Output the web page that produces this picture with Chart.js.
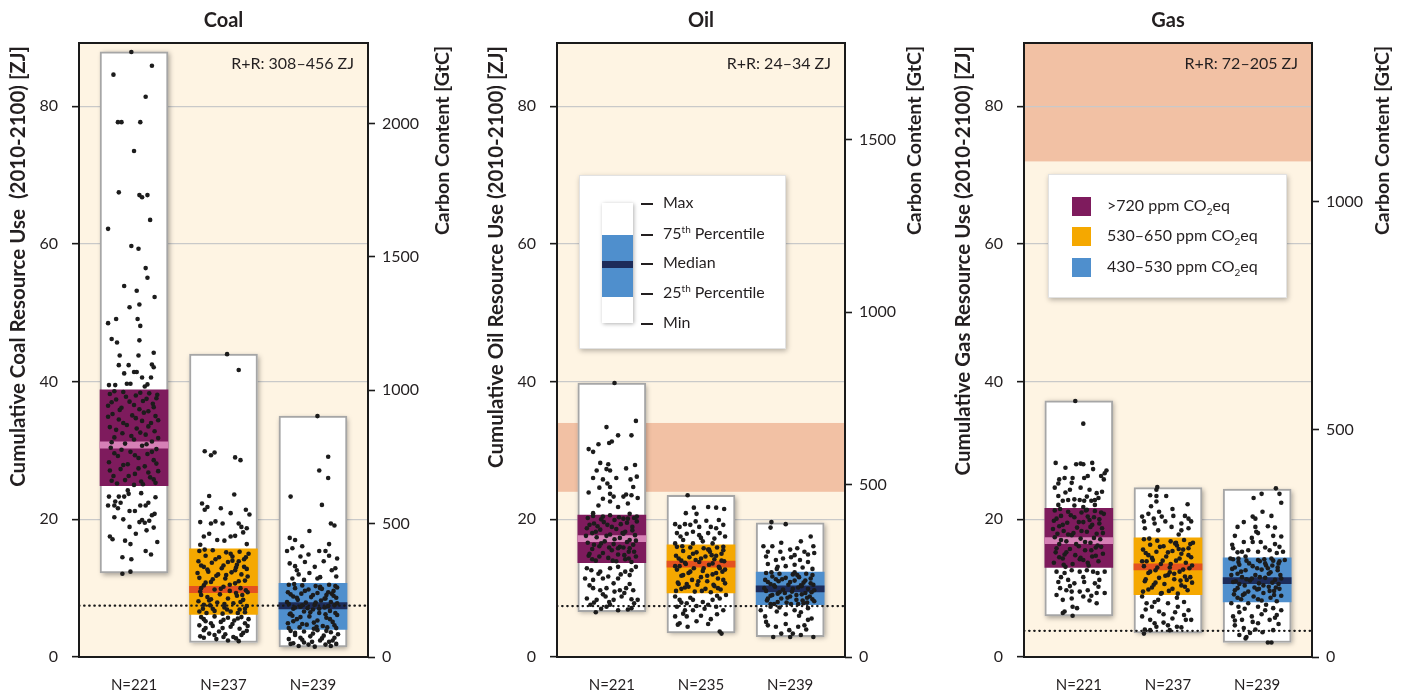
<!DOCTYPE html>
<html>
<head>
<meta charset="utf-8">
<script src="https://cdn.jsdelivr.net/npm/chart.js@4.4.1/dist/chart.umd.min.js"></script>
<style>
  body { margin: 0; width: 1406px; height: 694px; position: relative; overflow: hidden; background: #fff;
         font-family: Lato, "Noto Sans", sans-serif; color: #231f20; }
  .panel { position: absolute; top: 0; height: 694px; }
  .key { position: absolute; background: #fff; border: 1px solid #e2e2e2; box-shadow: 1px 2px 5px rgba(0,0,0,0.28); }
  .key div { position: absolute; }
  .row { font-size: 16px; line-height: 18px; white-space: nowrap; }
  .row sup, .row sub { font-size: 10px; line-height: 0; }
  .dash { height: 1.6px; background: #231f20; width: 12px; }
</style>
</head>
<body>
<div class="panel" style="left:0;width:470px"><canvas id="coalChart" width="470" height="694"></canvas></div>
<div class="panel" style="left:470px;width:470px"><canvas id="oilChart" width="470" height="694"></canvas></div>
<div class="panel" style="left:940px;width:466px"><canvas id="gasChart" width="466" height="694"></canvas></div>
<div class="key" id="boxKey" style="left:579px;top:175px;width:205px;height:172px"></div>
<div class="key" id="scenKey" style="left:1048px;top:174px;width:237px;height:122px"></div>

<script>
// ----- Scenario categories -----
const scenarioNames  = [">720", "530–650", "430–530"];
const scenarioColors = ["#7e1b5d", "#f5a800", "#4f8fcd"];
const medianColors   = ["#d680b6", "#e4511f", "#1d2c5a"];

// ----- Axis ticks -----
const resourceTicks = [0, 20, 40, 60, 80];
const resourceMax   = 89.2;
const coalCarbonTicks = [0, 500, 1000, 1500, 2000];
const oilCarbonTicks  = [0, 500, 1000, 1500];
const gasCarbonTicks  = [0, 500, 1000];
// GtC per ZJ
const coalCarbonPerZJ = 25.8;
const oilCarbonPerZJ  = 19.97;
const gasCarbonPerZJ  = 15.12;

// ----- Sample sizes -----
const coalN = ["N=221", "N=237", "N=239"];
const oilN  = ["N=221", "N=235", "N=239"];
const gasN  = ["N=221", "N=237", "N=239"];

// ----- Box statistics [ZJ] (>720, 530-650, 430-530) -----
const coalMin = [12.2, 2.1, 1.45];
const coalQ1  = [24.9, 6.2, 4.0];
const coalMed = [30.8, 9.8, 7.45];
const coalQ3  = [38.8, 15.7, 10.7];
const coalMax = [87.9, 44.0, 35.0];

const oilMin = [6.6, 3.5, 2.95];
const oilQ1  = [13.7, 9.3, 7.6];
const oilMed = [17.2, 13.5, 9.9];
const oilQ3  = [20.6, 16.3, 12.35];
const oilMax = [39.8, 23.5, 19.5];

const gasMin = [5.95, 3.5, 2.1];
const gasQ1  = [13.0, 9.05, 8.0];
const gasMed = [16.9, 13.1, 11.1];
const gasQ3  = [21.6, 17.3, 14.4];
const gasMax = [37.2, 24.6, 24.4];

// dotted reference line [ZJ] and reserves+resources range [ZJ]
const coalRef = 7.45, oilRef = 7.4, gasRef = 3.8;
const coalRR = [308, 456];
const oilRR  = [24, 34];
const gasRR  = [72, 205];

// ----- Individual scenarios: [jitter, ZJ] -----
const coalDotsHigh = [
  [-.03,87.9],[.20,85.9],[-.23,84.6],[.13,81.4],[-.18,77.7],[-.14,77.7],[.07,77.7],[0,73.5],[-.17,67.5],[.06,67.1],
  [.09,66.8],[.15,67.1],[.18,63.5],[-.29,62.2],[-.03,59.7],[.05,59.3],[.13,56.5],[.15,55.1],[-.11,53.9],[.03,53.2],
  [.23,52.3],[-.05,50.8],[.06,51.2],[-.29,48.5],[-.2,49.1],[.04,49.1],[.07,48.1],[-.25,46.2],[-.19,45.7],[.06,46.0],
  [-.16,43.8],[.05,43.8],[.22,44.2],[-.17,42.4],[-.06,42.4],[.2,42.5],[.22,42.1],[-.11,41.2],[0,41.4],[.03,41.4],
  [.09,40.6],[.19,40.6],[.15,39.6],[.12,39.3],[-.28,39.5],[-.21,39.5],[-.08,39.7],[-.04,39.7],
  [-.27,38.2],[-.12,38.5],[.02,38.0],[.17,38.3],[.25,37.6],[-.2,37.4],[-.05,37.1],[.1,37.2],[.21,36.8],[-.29,36.5],
  [-.14,36.2],[.06,36.0],[.16,35.7],[-.24,35.3],[-.02,35.1],[.24,35.0],[-.17,34.5],[.09,34.3],[.19,34.0],[-.08,33.7],
  [-.27,33.4],[.03,33.2],[.23,32.8],[-.13,32.5],[.13,32.3],[-.22,31.9],[0,31.6],[.2,31.3],[-.1,31.0],[.09,30.7],
  [-.26,30.4],[.25,30.2],[-.04,29.8],[.15,29.5],[-.18,29.2],[.05,28.9],[.22,28.6],[-.28,28.3],[-.07,28.0],[.12,27.7],
  [-.15,27.3],[.27,27.0],[.01,26.6],[-.23,26.3],[.18,26.1],[-.1,25.7],[.08,25.5],[-.19,25.2],[.24,25.3],[0,25.0],
  [-.22,38.6],[.07,38.4],[.26,38.1],[-.09,37.8],[.14,37.5],[-.25,37.0],[0,36.6],[.22,36.3],[-.16,35.9],[.11,35.5],
  [-.29,34.9],[.02,34.7],[.27,34.4],[-.12,34.0],[.16,33.5],[-.2,33.0],[.07,32.6],[-.03,32.1],[.27,31.8],[-.25,31.2],
  [.14,30.9],[-.14,30.1],[.2,29.8],[-.22,29.6],[.01,29.3],[.25,28.1],[-.12,27.9],[.05,27.4],[-.27,27.1],[.16,26.8],
  [-.06,26.3],[.22,25.8],[-.25,25.6],[.1,25.1],
  [-.07,24.2],[-.28,23.3],[-.21,22.6],[-.17,23.3],[-.11,23.3],[-.06,23.7],[-.29,22.0],[-.22,22.0],[-.18,21.6],[-.15,22.4],
  [-.05,21.2],[.01,21.2],[.07,22.0],[.13,22.0],[.16,22.4],[.24,23.2],[-.27,17.5],[-.24,17.1],[-.05,18.9],[.12,19.5],
  [.17,19.8],[.23,20.8],[.2,20.6],[.06,19.6],[.09,19.9],[-.13,14.5],[-.03,14.2],[-.04,16.4],[.13,15.4],[.19,14.9],
  [.14,18.4],[.22,18.8],[.26,16.7],[-.13,12.1],[-.04,12.4],[-.22,20.3],[-.12,20.0],[.02,17.9],[-.1,16.9],[.08,23.8]
];
const coalDotsMid = [
  [.04,44.0],[.17,41.7],[-.21,29.9],[-.14,29.3],[-.1,29.7],[.13,29.0],[.19,28.6],[-.16,23.4],[.12,23.6],
  [-.24,22.3],[-.21,21.4],[-.18,21.8],[-.03,21.6],[.08,20.9],[.25,21.4],[.29,20.7],[-.26,19.6],[-.14,19.4],[-.09,19.7],
  [-.01,19.4],[.17,19.4],[.2,18.9],[.26,18.7],[-.22,17.5],[-.16,17.9],[-.07,17.0],[.01,16.9],[.08,17.5],[.13,17.6],
  [.22,18.1],[.26,16.4],[-.26,16.3],
  [-.27,15.4],[-.12,15.5],[.03,15.2],[.18,15.3],[.28,15.0],[-.2,14.7],[-.05,14.5],[.1,14.6],[.23,14.2],[-.28,13.9],
  [-.13,13.7],[.05,13.8],[.15,13.4],[-.22,13.1],[-.02,12.9],[.26,12.8],[-.17,12.4],[.09,12.3],[.2,12.0],[-.08,11.8],
  [-.27,11.5],[.02,11.4],[.24,11.1],[-.14,10.9],[.13,10.7],[-.22,10.4],[0,10.2],[.19,10.0],[-.1,9.8],[.07,9.6],
  [-.26,9.5],[.27,9.4],[-.04,9.1],[.15,8.9],[-.18,8.7],[.05,8.5],[.22,8.3],[-.28,8.1],[-.07,7.9],[.11,7.8],
  [-.15,7.5],[.26,7.4],[.01,7.2],[-.23,7.0],[.18,6.9],[-.1,6.7],[.08,6.6],[-.19,6.4],[.24,6.5],[-.01,6.3],
  [.14,13.0],[-.06,12.0],[.21,9.0],[-.16,8.2],[.1,14.0],[-.25,10.0],
  [-.21,15.6],[.08,15.0],[.25,14.5],[-.09,14.2],[.17,13.9],[-.25,13.3],[0,13.3],[.23,13.1],[-.18,12.7],[.13,12.6],
  [-.29,12.2],[.03,11.9],[.27,11.7],[-.12,11.3],[.17,11.0],[-.2,10.8],[.07,10.5],[-.03,9.9],[.25,9.7],[-.25,9.0],
  [.14,9.3],[-.14,8.4],[.19,8.0],[-.22,7.6],[.01,7.7],[.24,7.0],[-.12,7.0],[.04,6.9],[-.27,6.6],[.16,6.4],
  [-.25,5.8],[-.1,5.9],[.05,5.7],[.2,5.8],[.28,5.5],[-.2,5.2],[-.03,5.1],[.12,5.3],[.24,4.9],[-.27,4.6],
  [-.12,4.5],[.08,4.4],[.18,4.1],[-.22,3.9],[-.05,3.7],[.26,3.8],[-.16,3.4],[.02,3.3],[.2,3.2],[-.26,3.0],
  [.11,2.9],[-.08,2.6],[.05,2.4],[.17,2.3],[-.2,4.2],[.27,4.5],
  [-.22,5.5],[0,5.4],[.16,5.6],[-.14,4.9],[.1,4.8],[-.01,4.2],[.22,3.5],[-.1,3.2],[.14,2.7],[-.22,2.8],[0,2.9]
];
const coalDotsLow = [
  [.05,35.0],[.17,29.1],[.07,27.1],[.17,26.0],[-.25,23.3],[.1,22.1],[.2,19.4],[.24,19.1],[-.04,18.3],[-.26,17.3],
  [-.2,17.0],[-.12,16.1],[-.29,15.4],[-.23,15.8],[.07,15.4],[.14,15.4],[.18,14.7],[-.14,14.6],[-.09,13.8],[-.26,13.6],
  [.02,13.1],[.21,12.6],[-.18,12.6],[-.04,12.2],[.08,11.6],[.26,11.7],[-.23,11.4],[-.1,11.2],
  [-.2,13.2],[.12,13.9],[.25,12.9],[-.05,14.9],[.18,16.4],[-.16,12.0],[.05,11.4],[.27,14.3],
  [-.27,10.5],[-.12,10.4],[.03,10.3],[.18,10.5],[.27,10.1],[-.2,10.0],[-.05,9.8],[.1,9.9],[.23,9.6],[-.28,9.4],
  [-.13,9.2],[.05,9.3],[.15,9.0],[-.22,8.8],[-.02,8.7],[.26,8.6],[-.17,8.3],[.09,8.2],[.2,8.0],[-.08,7.9],
  [-.27,7.7],[.02,7.6],[.24,7.5],[-.14,7.3],[.13,7.2],[-.22,7.0],[0,6.9],[.19,6.7],[-.1,6.6],[.07,6.4],
  [-.26,6.2],[.27,6.1],[-.04,5.9],[.15,5.7],[-.18,5.5],[.05,5.3],[.22,5.1],[-.28,4.9],[-.07,4.7],[.11,4.5],
  [-.15,4.3],[.26,4.2],[.01,4.1],[.14,8.5],[-.06,7.1],[.21,9.2],[-.23,6.0],[.08,10.0],
  [-.21,10.6],[.08,10.2],[.25,10.3],[-.09,9.6],[.17,9.4],[-.25,9.1],[0,9.0],[.23,8.9],[-.18,8.6],[.13,8.5],
  [-.29,8.0],[.03,7.9],[.27,7.8],[-.12,7.5],[.17,7.4],[-.2,7.2],[.07,7.0],[-.03,6.5],[.25,6.4],[-.25,6.3],
  [.14,6.2],[-.14,5.8],[.19,5.5],[-.22,5.2],[.01,5.0],[.24,4.6],[-.12,4.8],[.04,4.4],[-.27,4.2],[.16,4.3],
  [-.25,3.8],[-.1,3.7],[.05,3.9],[.2,3.6],[.28,3.3],[-.2,3.2],[-.03,3.0],[.12,3.1],[.24,2.8],[-.27,2.6],
  [-.12,2.5],[.08,2.4],[.18,2.2],[-.22,2.0],[-.05,1.8],[.26,1.9],[-.16,1.6],[.02,1.5],[.2,1.6],
  [-.2,3.5],[0,3.4],[.15,3.8],[-.14,2.8],[.1,2.7],[-.01,2.2],[.22,2.4],[-.1,2.1],[.14,1.8],[-.25,1.9]
];

const oilDotsHigh = [
  [.03,39.8],[.27,34.3],[-.06,33.4],[.07,32.2],[.22,32.2],[-.03,31.1],[0,31.3],[-.15,30.9],[-.26,30.2],[-.21,29.8],
  [-.13,28.2],[-.04,28.0],[.26,27.9],[.16,27.4],[-.17,27.1],[-.06,27.3],[-.02,27.1],[-.21,26.0],[-.1,25.8],[.05,26.0],
  [.21,25.8],[.28,26.2],[-.14,24.6],[-.05,25.2],[-.02,24.7],[.24,24.7],[-.26,23.9],[-.02,23.7],[.02,23.3],[.13,23.3],
  [.16,23.6],[.22,23.5],[.29,23.1],[-.1,23.0],[-.02,22.6],[.18,22.3],[-.15,22.0],[.07,21.8],[-.21,20.9],[-.1,20.4],
  [-.02,20.6],[.13,20.1],[.2,20.8],[.28,20.4],
  [-.27,20.2],[-.12,20.0],[.03,19.9],[.18,20.1],[.28,19.7],[-.2,19.4],[-.05,19.2],[.1,19.3],[.23,18.9],[-.28,18.7],
  [-.13,18.5],[.05,18.6],[.15,18.2],[-.22,18.0],[-.02,17.8],[.26,17.7],[-.17,17.4],[.09,17.3],[.2,17.0],[-.08,16.8],
  [-.27,16.6],[.02,16.4],[.24,16.3],[-.14,16.1],[.13,15.9],[-.22,15.7],[0,15.5],[.19,15.3],[-.1,15.1],[.07,14.9],
  [-.26,14.7],[.27,14.6],[-.04,14.4],[.15,14.2],[-.18,14.0],[.05,13.9],[.22,13.8],[.12,18.0],[-.06,17.6],[.2,15.8],
  [-.16,19.0],[.09,16.0],
  [-.21,20.5],[.08,20.3],[.25,20.2],[-.09,19.6],[.17,19.5],[-.25,19.2],[0,18.9],[.23,18.4],[-.18,18.2],[.13,17.9],
  [-.29,17.6],[.03,17.1],[.27,16.9],[-.12,16.5],[.17,16.7],[-.2,16.3],[.07,15.8],[-.03,15.9],[.25,15.3],[-.25,15.0],
  [.14,14.8],[-.14,14.6],[.19,14.3],[-.22,14.2],[.01,14.0],
  [-.28,12.9],[-.23,12.6],[-.13,12.4],[-.02,12.9],[.07,13.1],[.15,12.4],[.22,12.6],[.27,13.1],[-.3,11.4],[-.21,11.2],
  [-.1,11.4],[-.04,11.7],[.07,11.4],[.2,11.9],[-.21,10.0],[-.13,9.7],[-.06,10.0],[.03,9.5],[.09,9.7],[.16,10.0],
  [.24,9.7],[-.28,8.5],[-.17,8.3],[-.07,8.8],[.02,8.3],[.11,8.8],[.22,8.4],[.29,8.3],[-.24,7.6],[-.06,7.3],
  [-.02,7.6],[.07,6.8],[.22,7.1],[-.18,6.5],[.18,6.9],[-.12,7.0],
  [-.15,12.1],[.1,12.0],[.02,10.7],[-.25,10.4],[.2,10.6],[-.1,9.1],[.14,9.3],[-.03,8.0],[.25,7.8],[-.2,7.9]
];
const oilDotsMid = [
  [-.15,23.5],[-.08,21.7],[.08,21.8],[.17,21.7],[.26,21.5],[-.17,20.9],[-.05,20.8],[.06,19.8],[-.29,19.3],[-.24,18.9],
  [-.18,19.3],[-.12,19.2],[-.02,18.9],[.11,18.9],[.17,18.7],[.25,19.2],[-.27,18.0],[-.16,17.9],[-.09,18.2],[-.02,17.7],
  [.08,18.0],[.21,18.0],[.27,17.5],[-.29,16.5],[-.2,17.0],[-.09,16.5],[.02,16.8],[.13,16.5],[.25,16.0],
  [-.23,17.5],[0,17.3],[.15,17.2],[-.06,19.7],[.2,19.9],
  [-.27,16.0],[-.12,15.9],[.03,15.8],[.18,15.9],[-.2,15.4],[-.05,15.2],[.1,15.3],[.23,15.0],[-.28,14.7],[-.13,14.5],
  [.05,14.6],[.15,14.2],[-.22,14.0],[-.02,13.8],[.26,13.9],[-.17,13.5],[.09,13.4],[.2,13.1],[-.08,12.9],[-.27,12.7],
  [.02,12.5],[.24,12.4],[-.14,12.2],[.13,12.0],[-.22,11.8],[0,11.6],[.19,11.4],[-.1,11.2],[.07,11.0],[-.26,10.8],
  [.27,10.7],[-.04,10.5],[.15,10.3],[-.18,10.1],[.05,9.9],[.22,9.8],[-.28,9.6],[-.07,9.5],[.11,9.4],[.12,14.8],
  [-.06,14.1],[.21,12.9],[-.16,10.6],[.09,15.6],[-.24,13.2],
  [-.21,16.1],[.08,15.6],[.25,15.5],[-.09,15.0],[.17,14.7],[-.25,14.3],[0,14.3],[.23,14.0],[-.18,13.7],[.13,13.6],
  [-.29,13.2],[.03,12.9],[.27,12.7],[-.12,12.4],[.17,12.2],[-.2,11.9],[.07,11.8],[-.03,11.0],[.25,11.2],[-.25,10.6],
  [.14,10.5],[-.14,10.2],[.19,10.0],[-.22,9.9],[.01,9.6],
  [-.29,8.8],[-.24,8.3],[-.16,7.8],[-.09,8.3],[.02,8.0],[.13,8.3],[.21,8.5],[.28,9.0],[-.27,7.3],[-.18,6.8],
  [-.09,6.8],[.04,7.0],[.17,7.3],[.25,6.8],[-.16,5.9],[-.29,5.9],[-.24,4.9],[-.15,4.4],[.08,4.8],[.21,3.7],
  [.23,3.4],[-.26,4.7],[0,6.0],[.11,5.5],[-.05,5.2],[.18,6.2],[-.2,6.3],
  [-.12,8.6],[.08,7.6],[-.22,7.9],[.18,8.9],[-.05,7.4]
];
const oilDotsLow = [
  [-.21,19.6],[-.05,19.3],[-.22,18.8],[.23,17.5],[-.3,16.1],[-.2,16.1],[-.11,15.3],[0,15.6],[.08,15.8],[.16,15.3],
  [.26,16.1],[.27,15.1],[-.27,14.6],[-.16,14.1],[-.08,14.3],[.01,14.5],[.11,14.1],[.2,13.8],
  [-.25,13.5],[-.05,13.2],[.14,13.0],[.25,12.8],[-.15,12.8],[.05,13.4],
  [-.1,16.6],[.12,16.8],[-.25,15.3],[.05,14.8],[-.14,13.1],[.2,14.9],
  [-.27,12.2],[-.12,12.1],[.03,12.0],[.18,12.1],[-.2,11.7],[-.05,11.5],[.1,11.6],[.23,11.4],[-.28,11.2],[-.13,11.0],
  [.05,11.1],[.15,10.8],[-.22,10.6],[-.02,10.5],[.26,10.5],[-.17,10.2],[.09,10.1],[.2,9.9],[-.08,9.8],[-.27,9.6],
  [.02,9.5],[.24,9.4],[-.14,9.2],[.13,9.1],[-.22,8.9],[0,8.8],[.19,8.6],[-.1,8.5],[.07,8.3],[-.26,8.2],
  [.27,8.1],[-.04,7.9],[.15,7.8],[-.18,7.7],[.05,12.3],[.12,10.4],[-.06,9.3],[.22,8.8],[-.16,11.3],[.09,7.7],
  [-.21,12.3],[.08,11.9],[.25,11.9],[-.09,11.3],[.17,11.1],[-.25,10.9],[0,10.9],[.23,10.7],[-.18,10.4],[.13,10.3],
  [-.29,10.0],[.03,9.9],[.27,9.7],[-.12,9.4],[.17,9.3],[-.2,9.0],[.07,9.0],[-.03,8.6],[.25,8.4],[-.25,8.5],
  [.14,8.2],[-.14,8.0],[.19,7.9],[-.22,7.7],[.01,7.7],
  [-.33,6.8],[-.28,5.9],[-.16,4.4],[-.19,2.9],[-.1,3.4],[-.01,3.9],[.03,3.4],[.09,4.4],[.16,4.6],[.26,2.9],
  [.2,5.4],[.24,5.6],[.05,6.8],[-.25,4.6],[-.05,6.2],[.12,6.5],[-.12,7.2],[.2,7.1],[-.22,7.3],
  [-.15,6.6],[.1,6.0],[-.27,5.1],[.18,4.0],[-.05,4.8],[0,2.9],[.12,3.2]
];

const gasDotsHigh = [
  [-.04,37.2],[.05,33.9],[-.26,28.2],[-.03,28.0],[.02,28.1],[.05,28.0],[.15,28.2],[-.15,27.5],[.31,27.1],[.29,26.7],
  [-.22,25.8],[-.16,26.0],[-.07,26.0],[.06,26.0],[.1,26.3],[.25,26.3],[.28,25.8],[-.23,25.2],[-.27,24.6],[-.1,24.3],
  [.12,24.3],[.2,23.8],[.26,24.0],[-.23,23.4],[.09,23.3],[.18,22.8],[-.18,22.7],[-.12,22.8],[-.05,22.9],[.01,22.8],
  [.06,22.7],[.14,22.7],[-.23,22.1],[-.05,22.0],[.05,21.8],[.18,22.1],
  [-.15,23.9],[.02,24.6],[.22,23.1],[-.08,25.3],[.16,27.3],
  [-.27,21.3],[-.12,21.1],[.03,21.0],[.18,21.2],[.28,20.8],[-.2,20.5],[-.05,20.3],[.1,20.4],[.23,20.0],[-.28,19.8],
  [-.13,19.5],[.05,19.6],[.15,19.2],[-.22,19.0],[-.02,18.8],[.26,18.7],[-.17,18.3],[.09,18.2],[.2,17.9],[-.08,17.7],
  [-.27,17.4],[.02,17.2],[.24,17.1],[-.14,16.8],[.13,16.6],[-.22,16.4],[0,16.1],[.19,15.9],[-.1,15.7],[.07,15.5],
  [-.26,15.2],[.27,15.0],[-.04,14.8],[.15,14.6],[-.18,14.3],[.05,14.1],[.22,13.9],[-.28,13.7],[-.07,13.5],[.11,13.3],
  [-.15,13.1],[.12,19.9],[-.06,18.0],[.21,16.2],[-.16,14.9],[.09,21.4],[-.24,17.9],[.02,14.4],
  [-.21,21.5],[.08,21.3],[.25,21.0],[-.09,20.6],[.17,20.3],[-.25,20.1],[0,19.6],[.23,19.4],[-.18,19.2],[.13,18.9],
  [-.29,18.6],[.03,18.3],[.27,18.0],[-.12,17.8],[.17,17.3],[-.2,17.0],[.07,16.7],[-.03,16.4],[.25,16.0],[-.25,15.8],
  [.14,15.5],[-.14,15.2],[.19,14.7],[-.22,14.5],[.01,14.2],[.1,13.7],[-.17,13.4],
  [-.25,12.4],[-.16,12.2],[-.08,12.6],[.01,12.4],[.09,12.6],[.16,12.4],[.21,12.2],[.29,12.4],[-.23,10.9],[-.12,11.2],
  [-.05,10.7],[.06,10.9],[.18,10.7],[.23,11.2],[-.21,10.0],[-.14,9.7],[-.08,9.5],[.01,9.5],[.1,9.7],[.2,9.3],
  [.29,9.3],[-.25,9.0],[-.18,8.3],[-.08,8.5],[.05,8.8],[.14,8.9],[-.18,6.4],[-.07,6.0],[-.16,6.6],[-.07,7.3],[.2,7.8],
  [-.2,11.6],[.05,11.6],[.22,10.2],[-.1,10.3],[.12,8.2],[-.02,7.1]
];
const gasDotsMid = [
  [-.12,24.7],[-.13,24.3],[-.2,23.5],[-.13,23.4],[-.02,23.4],[-.13,22.6],[-.29,20.4],[-.22,20.8],[-.16,20.1],[-.07,20.4],
  [.06,20.5],[.19,20.5],[.23,20.1],[-.27,19.7],[-.15,19.4],[-.03,19.7],[.15,19.4],[.26,19.7],[-.26,18.7],[-.11,18.4],
  [.04,18.9],[.15,18.4],[.23,18.7],
  [-.19,21.9],[.05,21.5],[.22,22.2],[-.1,21.1],[.12,17.8],
  [-.27,17.1],[-.12,16.9],[.03,16.8],[.18,17.0],[.28,16.6],[-.2,16.3],[-.05,16.1],[.1,16.2],[.23,15.8],[-.28,15.6],
  [-.13,15.3],[.05,15.4],[.15,15.0],[-.22,14.8],[-.02,14.6],[.26,14.5],[-.17,14.1],[.09,14.0],[.2,13.7],[-.08,13.5],
  [-.27,13.2],[.02,13.0],[.24,12.9],[-.14,12.6],[.13,12.4],[-.22,12.2],[0,11.9],[.19,11.7],[-.1,11.5],[.07,11.3],
  [-.26,11.0],[.27,10.8],[-.04,10.6],[.15,10.4],[-.18,10.1],[.05,9.9],[.22,9.7],[-.28,9.5],[-.07,9.3],[.11,9.2],
  [.12,15.7],[-.06,14.0],[.21,11.2],[-.16,10.5],[.09,16.6],[-.24,13.9],[.02,12.3],
  [-.21,17.2],[.08,16.5],[.25,16.4],[-.09,16.0],[.17,15.6],[-.25,15.1],[0,15.2],[.23,14.8],[-.18,14.4],[.13,14.3],
  [-.29,13.9],[.03,13.5],[.27,13.3],[-.12,13.0],[.17,12.7],[-.2,12.4],[.07,12.1],[-.03,11.8],[.25,11.6],[-.25,11.3],
  [.14,11.1],[-.14,10.8],[.19,10.2],[-.22,9.8],[.01,9.6],[-.08,9.2],
  [-.29,8.8],[-.24,7.8],[-.18,7.3],[-.11,8.3],[0,7.8],[.11,7.3],[.23,6.8],[-.29,5.9],[-.2,5.4],[-.15,4.9],
  [0,4.6],[.1,4.4],[.15,4.3],[.2,5.4],[.26,5.4],[-.26,4.0],[-.2,3.9],[-.27,3.4],[-.05,6.2],[.08,6.5],
  [.18,8.0],[-.1,6.6],[.05,5.6],
  [-.15,8.0],[.1,8.6],[-.25,6.9],[.18,6.1],[-.05,5.0],[.02,3.9],[-.13,4.4]
];
const gasDotsLow = [
  [.21,24.5],[-.04,23.1],[.05,23.7],[.25,23.7],[.27,22.4],[.06,21.1],[-.05,20.4],[-.02,20.1],[.16,20.5],[-.22,18.9],
  [-.02,18.9],[-.01,18.2],[.01,18.0],[.18,17.6],[.27,17.5],[-.25,17.6],[-.15,16.7],[-.05,16.7],[.04,16.7],[.2,16.4],
  [.25,16.0],[-.28,16.3],[-.27,15.8],[-.17,15.3],[-.1,15.5],[.01,15.3],[.14,15.5],[.29,15.3],[.22,15.1],[-.3,14.3],
  [-.21,13.8],[-.13,14.6],[.01,14.1],[.16,14.3],[.31,14.1],[.24,13.6],
  [-.22,15.2],[.09,15.9],[-.06,17.3],[.2,18.8],[-.15,19.6],[.12,19.0],
  [-.27,14.2],[-.12,14.0],[.03,13.9],[.18,14.0],[-.2,13.4],[-.05,13.2],[.1,13.3],[.23,13.0],[-.28,12.8],[-.13,12.6],
  [.05,12.7],[.15,12.3],[-.22,12.1],[-.02,11.9],[.26,11.9],[-.17,11.6],[.09,11.5],[.2,11.2],[-.08,11.1],[-.27,10.9],
  [.02,10.7],[.24,10.6],[-.14,10.4],[.13,10.2],[-.22,10.0],[0,9.8],[.19,9.6],[-.1,9.5],[.07,9.3],[-.26,9.1],
  [.27,8.9],[-.04,8.8],[.15,8.6],[-.18,8.4],[.05,8.2],[.22,8.1],[.12,12.9],[-.06,11.4],[.21,10.1],[-.16,9.0],
  [.09,13.6],[-.24,11.0],[.02,9.9],
  [-.21,14.3],[.08,14.2],[.25,13.9],[-.09,13.6],[.17,13.3],[-.25,13.0],[0,12.9],[.23,12.6],[-.18,12.4],[.13,12.1],
  [-.29,11.9],[.03,11.6],[.27,11.4],[-.12,11.3],[.17,10.8],[-.2,10.6],[.07,10.4],[-.03,10.1],[.25,9.9],[-.25,9.7],
  [.14,9.6],[-.14,9.2],[.19,9.0],[-.22,8.6],[.01,8.4],
  [-.29,7.8],[-.21,7.3],[-.1,7.8],[.01,7.3],[.09,6.8],[.18,7.1],[.27,6.8],[-.27,5.9],[-.17,5.4],[-.06,5.9],
  [.01,4.9],[.14,5.4],[.22,6.1],[-.25,4.6],[-.15,4.2],[-.02,4.0],[.18,3.9],[-.12,2.9],[-.13,2.7],[.12,2.1],
  [.16,2.1],[-.2,6.5],[.05,6.2],[.24,4.8],[-.08,3.5],
  [-.14,7.0],[.1,7.6],[-.25,5.3],[.2,5.7],[-.05,5.1],[.06,3.6],[-.2,3.2]
];

// ----- Key texts -----
const keyLabels = ["Max", "75<sup>th</sup> Percentile", "Median", "25<sup>th</sup> Percentile", "Min"];

// ----- Layout constants -----
const X_MIN = -0.615, X_MAX = 2.615;
const FONT = 'Lato, "Noto Sans", sans-serif';
Chart.defaults.font.family = FONT;
Chart.defaults.color = "#231f20";

// ----- Panel decoration: plot background, R+R band, frame and titles -----
const panelDecor = {
  id: "panelDecor",
  beforeDraw(chart, args, opts) {
    const { ctx, chartArea: a, scales: { y } } = chart;
    ctx.save();
    ctx.fillStyle = "#fef4e3";
    ctx.fillRect(a.left, a.top, a.width, a.height);
    const [lo, hi] = opts.rr;
    if (lo < y.max) {
      const top = y.getPixelForValue(Math.min(hi, y.max));
      const bot = y.getPixelForValue(Math.max(lo, y.min));
      ctx.fillStyle = "#f2c1a4";
      ctx.fillRect(a.left, top, a.width, bot - top);
    }
    ctx.restore();
  },
  beforeDatasetsDraw(chart) {
    //soft shadow under the min-max boxes
    const { ctx } = chart;
    ctx.save();
    ctx.shadowColor = "rgba(0,0,0,0.35)";
    ctx.shadowBlur = 5;
    ctx.shadowOffsetX = 1.5;
    ctx.shadowOffsetY = 1.5;
    ctx.fillStyle = "#fff";
    chart.getDatasetMeta(0).data.forEach(bar => {
      const { x, y, base, width } = bar.getProps(["x", "y", "base", "width"], true);
      ctx.fillRect(x - width / 2, Math.min(y, base), width, Math.abs(base - y));
    });
    ctx.restore();
  },
  afterDraw(chart, args, opts) {
    const { ctx, chartArea: a } = chart;
    ctx.save();
    ctx.strokeStyle = "#1a1a1a";
    ctx.lineWidth = 2;
    ctx.strokeRect(a.left, a.top, a.width, a.height);

    ctx.fillStyle = "#231f20";
    ctx.font = `bold 20px ${FONT}`;
    ctx.textAlign = "center";
    ctx.textBaseline = "middle";
    ctx.fillText(opts.title, (a.left + a.right) / 2, 21);

    ctx.font = `16px ${FONT}`;
    ctx.textAlign = "right";
    ctx.fillText(`R+R: ${opts.rr[0]}–${opts.rr[1]} ZJ`, a.right - 14, 64);

    ctx.textBaseline = "middle";
    [[a.left - 61, opts.leftTitle, 20.5], [a.right + opts.rightOffset, "Carbon Content [GtC]", 19.5]].forEach(([x, text, size]) => {
      ctx.save();
      ctx.font = `bold ${size}px ${FONT}`;
      ctx.translate(x, a.top + 3);
      ctx.rotate(-Math.PI / 2);
      ctx.textAlign = "right";
      ctx.fillText(text, 0, 0);
      ctx.restore();
    });
    ctx.restore();
  }
};

function makePanel(canvasId, cfg) {
  const { min, q1, med, q3, max, dots, ref, nLabels, carbonTicks, carbonPerZJ } = cfg;
  const datasets = [
    {
      type: "bar", order: 5, grouped: false, barThickness: 68,
      data: min.map((m, i) => ({ x: i, y: [m, max[i]] })),
      backgroundColor: "#ffffff", borderColor: "#a6a6a6", borderWidth: 2, borderSkipped: false
    },
    {
      type: "bar", order: 4, grouped: false, barThickness: 68,
      data: q1.map((q, i) => ({ x: i, y: [q, q3[i]] })),
      backgroundColor: scenarioColors
    },
    {
      type: "bar", order: 3, grouped: false, barThickness: 68,
      data: med.map((m, i) => ({ x: i, y: [m - 0.45, m + 0.45] })),
      backgroundColor: medianColors
    },
    {
      type: "line", order: 2,
      data: [{ x: X_MIN, y: ref }, { x: X_MAX, y: ref }],
      borderColor: "#1a1a1a", borderWidth: 2.2, borderDash: [0.5, 4.6], borderCapStyle: "round",
      pointRadius: 0, fill: false
    },
    {
      type: "scatter", order: 1,
      data: dots.flatMap((list, i) => list.map(([dx, v]) => ({ x: i + dx, y: v }))),
      pointRadius: 2.3, pointBackgroundColor: "#1c1c1c", pointBorderWidth: 0
    }
  ];

  return new Chart(document.getElementById(canvasId), {
    type: "bar",
    data: { datasets },
    options: {
      responsive: false,
      animation: false,
      events: [],
      layout: { padding: { top: 43, left: 0, right: 0, bottom: 0 } },
      plugins: {
        legend: { display: false },
        tooltip: { enabled: false },
        panelDecor: { title: cfg.title, leftTitle: cfg.leftTitle, rr: cfg.rr, rightOffset: cfg.rightOffset }
      },
      scales: {
        x: {
          type: "linear", min: X_MIN, max: X_MAX, offset: false,
          afterBuildTicks: s => { s.ticks = nLabels.map((_, i) => ({ value: i })); },
          afterFit: s => { s.height = 37; },
          ticks: { callback: v => nLabels[v], font: { size: 15 }, padding: 19, autoSkip: false, maxRotation: 0 },
          grid: { display: false, drawTicks: false },
          border: { display: false }
        },
        y: {
          type: "linear", position: "left", min: 0, max: resourceMax,
          afterBuildTicks: s => { s.ticks = resourceTicks.map(v => ({ value: v })); },
          afterFit: s => { s.width = cfg.leftW; },
          ticks: { font: { size: 16 }, padding: 14, callback: v => String(v) },
          grid: { color: "#c9c9c9", lineWidth: 1.3, tickColor: "#1a1a1a", tickLength: 7, tickWidth: 1.6 },
          border: { display: false }
        },
        y2: {
          type: "linear", position: "right", min: 0, max: resourceMax * carbonPerZJ,
          afterBuildTicks: s => { s.ticks = carbonTicks.map(v => ({ value: v })); },
          afterFit: s => { s.width = cfg.rightW; },
          ticks: { font: { size: 16 }, padding: 7, callback: v => String(v) },
          grid: { drawOnChartArea: false, tickColor: "#1a1a1a", tickLength: 7, tickWidth: 1.6 },
          border: { display: false }
        }
      }
    },
    plugins: [panelDecor]
  });
}

makePanel("coalChart", {
  title: "Coal", leftTitle: "Cumulative Coal Resource Use  (2010-2100) [ZJ]", rr: coalRR,
  min: coalMin, q1: coalQ1, med: coalMed, q3: coalQ3, max: coalMax,
  dots: [coalDotsHigh, coalDotsMid, coalDotsLow], ref: coalRef, nLabels: coalN,
  carbonTicks: coalCarbonTicks, carbonPerZJ: coalCarbonPerZJ,
  leftW: 79, rightW: 102, rightOffset: 75
});
makePanel("oilChart", {
  title: "Oil", leftTitle: "Cumulative Oil Resource Use (2010-2100) [ZJ]", rr: oilRR,
  min: oilMin, q1: oilQ1, med: oilMed, q3: oilQ3, max: oilMax,
  dots: [oilDotsHigh, oilDotsMid, oilDotsLow], ref: oilRef, nLabels: oilN,
  carbonTicks: oilCarbonTicks, carbonPerZJ: oilCarbonPerZJ,
  leftW: 87, rightW: 95, rightOffset: 70
});
makePanel("gasChart", {
  title: "Gas", leftTitle: "Cumulative Gas Resource Use (2010-2100) [ZJ]", rr: gasRR,
  min: gasMin, q1: gasQ1, med: gasMed, q3: gasQ3, max: gasMax,
  dots: [gasDotsHigh, gasDotsMid, gasDotsLow], ref: gasRef, nLabels: gasN,
  carbonTicks: gasCarbonTicks, carbonPerZJ: gasCarbonPerZJ,
  leftW: 84, rightW: 94, rightOffset: 71
});

// ----- Box-plot key (oil panel) -----
const boxKey = document.getElementById("boxKey");
boxKey.innerHTML =
  `<div style="left:22px;top:27px;width:31px;height:120px;background:#fff;box-shadow:1px 1px 4px rgba(0,0,0,0.3)"></div>
   <div style="left:22px;top:59px;width:31px;height:62px;background:${scenarioColors[2]}"></div>
   <div style="left:22px;top:85px;width:31px;height:7px;background:${medianColors[2]}"></div>` +
  keyLabels.map((label, i) => {
    const yc = [27, 58, 87, 117, 147][i];
    return `<div class="dash" style="left:61px;top:${yc}px"></div>
            <div class="row" style="left:83px;top:${yc - 10}px">${label}</div>`;
  }).join("");

// ----- Scenario colour key (gas panel) -----
const scenKey = document.getElementById("scenKey");
scenKey.innerHTML = scenarioNames.map((name, i) => {
  const yc = [31, 61, 92][i];
  return `<div style="left:23px;top:${yc - 9.5}px;width:19px;height:19px;background:${scenarioColors[i]}"></div>
          <div class="row" style="left:58px;top:${yc - 10}px">${name} ppm CO<sub>2</sub>eq</div>`;
}).join("");
</script>
</body>
</html>
